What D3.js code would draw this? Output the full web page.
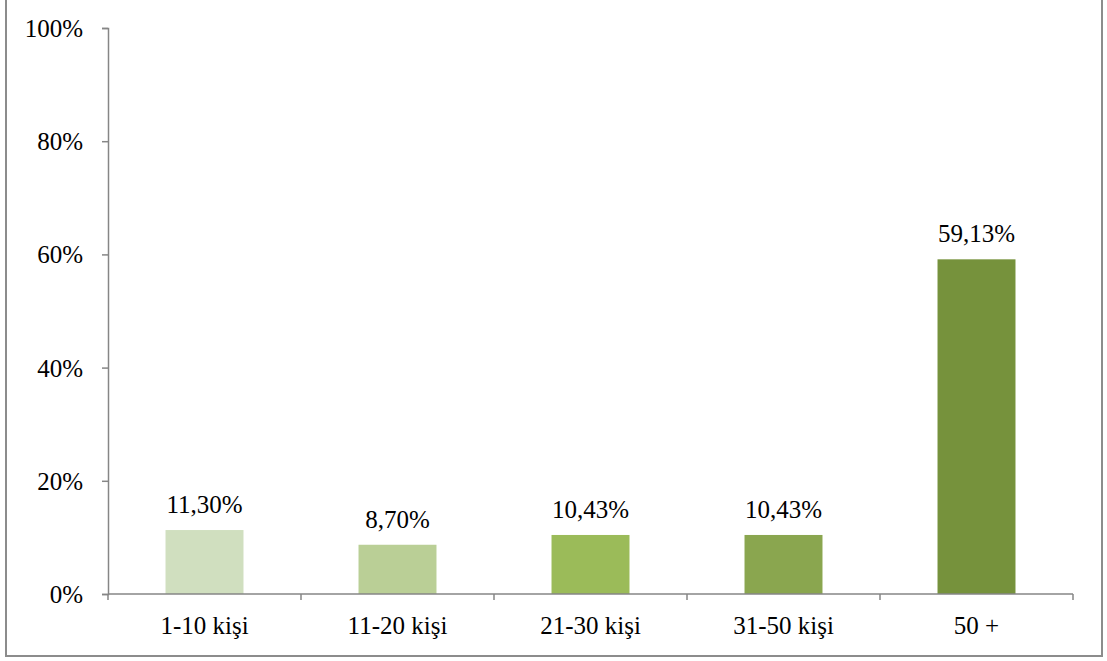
<!DOCTYPE html>
<html><head><meta charset="utf-8">
<script src="https://cdn.jsdelivr.net/npm/d3@7"></script>
<style>body{margin:0;background:#fff}svg{display:block}text{font-family:"Liberation Serif","Times New Roman",serif;fill:#000}</style>
</head><body>
<svg id="c" width="1107" height="661"></svg>
<script>
const categories = ["1-10 kişi","11-20 kişi","21-30 kişi","31-50 kişi","50 +"];
const values = [11.30, 8.70, 10.43, 10.43, 59.13];
const valueLabels = ["11,30%","8,70%","10,43%","10,43%","59,13%"];
const yTicks = [0,20,40,60,80,100];
const colors = ["#d0dfbf","#bacf96","#9bbb59","#8aa64f","#76923c"];

const svg = d3.select("#c");
// outer border
svg.append("rect").attr("x",6).attr("y",-2).attr("width",1096).attr("height",658)
  .attr("fill","none").attr("stroke","#8c8c8c").attr("stroke-width",2);

const x = d3.scaleBand().domain(categories).range([108,1073]).paddingInner(0.596).paddingOuter(0.298);
const y = d3.scaleLinear().domain([0,100]).range([594,28]);

const axisColor = "#868686";
// y axis
const ya = svg.append("g").attr("transform","translate(108,0)")
  .call(d3.axisLeft(y).tickValues(yTicks).tickFormat(d=>d+"%").tickSize(6).tickPadding(19));
ya.select(".domain").attr("stroke",axisColor).attr("stroke-width",1.5);
ya.selectAll(".tick line").attr("stroke",axisColor).attr("stroke-width",1.5);
ya.selectAll(".tick text").attr("font-size",25).attr("font-family","Liberation Serif").attr("dy","0.34em");

// bars
svg.selectAll("rect.bar").data(values).enter().append("rect").attr("class","bar")
  .attr("x",(d,i)=>x(categories[i])).attr("width",x.bandwidth())
  .attr("y",d=>y(d)).attr("height",d=>y(0)-y(d))
  .attr("fill",(d,i)=>colors[i]);

// x axis
const xa = svg.append("g").attr("transform","translate(0,594)");
xa.append("line").attr("x1",108).attr("x2",1073).attr("stroke",axisColor).attr("stroke-width",1.5);
const step = x.step();
const bounds = d3.range(categories.length+1).map(i=>108+i*(1073-108)/categories.length);
xa.selectAll("line.t").data(bounds).enter().append("line").attr("class","t")
  .attr("x1",d=>d).attr("x2",d=>d).attr("y1",0).attr("y2",6)
  .attr("stroke",axisColor).attr("stroke-width",1.5);
xa.selectAll("text").data(categories).enter().append("text")
  .attr("x",d=>x(d)+x.bandwidth()/2).attr("y",40)
  .attr("text-anchor","middle").attr("font-size",25).text(d=>d);

// value labels
svg.selectAll("text.vl").data(values).enter().append("text").attr("class","vl")
  .attr("x",(d,i)=>x(categories[i])+x.bandwidth()/2).attr("y",d=>y(d)-17)
  .attr("text-anchor","middle").attr("font-size",25).text((d,i)=>valueLabels[i]);
</script>
</body></html>
